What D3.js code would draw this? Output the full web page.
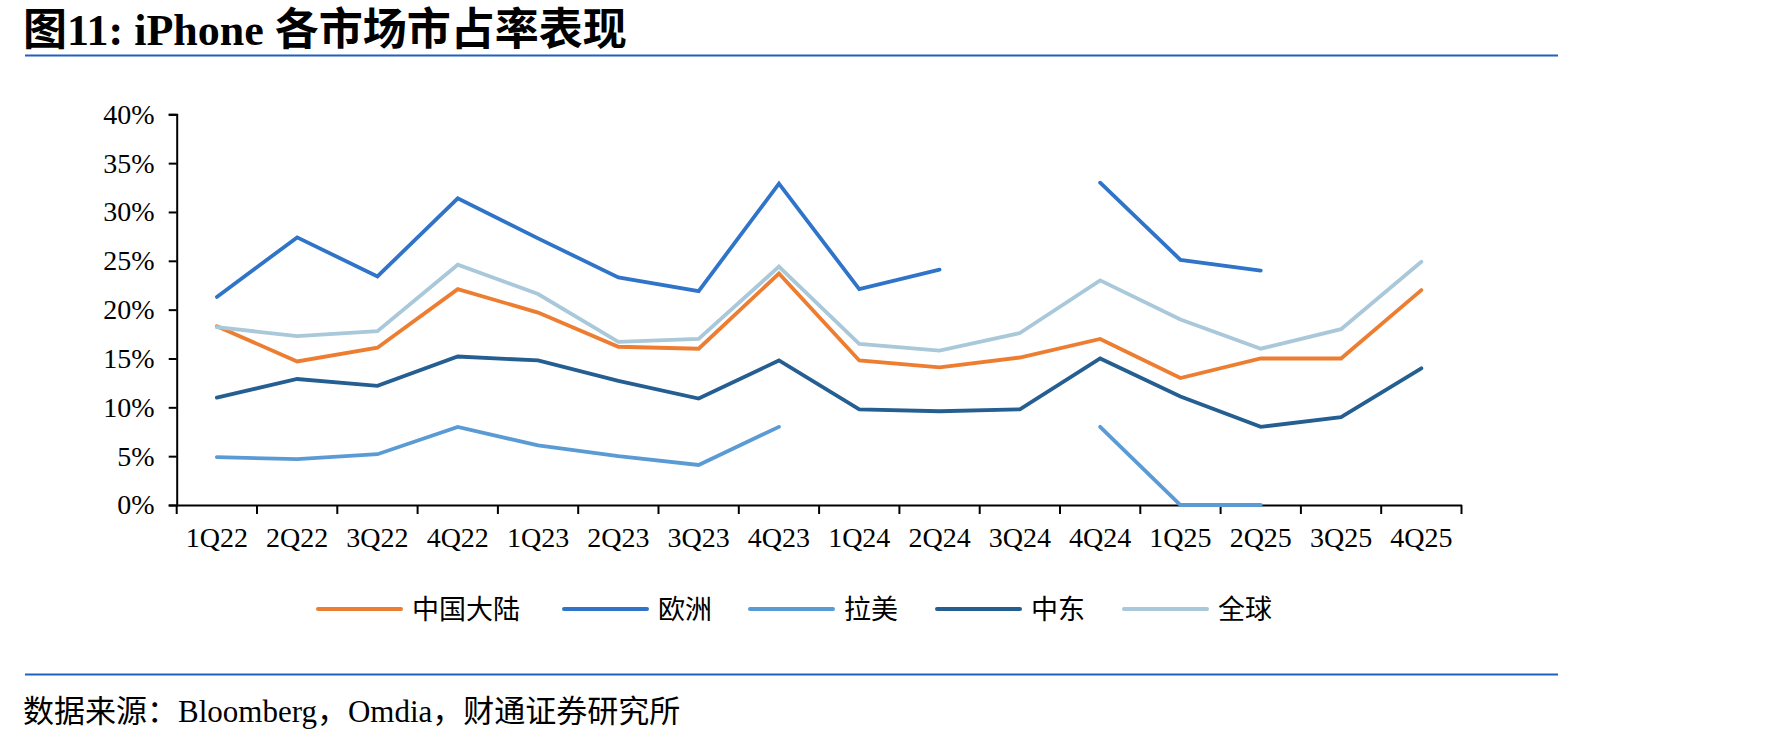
<!DOCTYPE html>
<html><head><meta charset="utf-8">
<script src="https://cdn.jsdelivr.net/npm/d3@7/dist/d3.min.js"></script>
<style>
body{margin:0;background:#fff;}
svg{display:block;}
</style></head>
<body>
<svg id="chart" width="1770" height="742"></svg>
<script>
const categories = ["1Q22","2Q22","3Q22","4Q22","1Q23","2Q23","3Q23","4Q23","1Q24","2Q24","3Q24","4Q24","1Q25","2Q25","3Q25","4Q25"];
const seriesNames = ["中国大陆","欧洲","拉美","中东","全球"];
const china   = [18.3,14.7,16.1,22.1,19.7,16.2,16.0,23.7,14.8,14.1,15.1,17.0,13.0,15.0,15.0,22.0];
const europe  = [21.3,27.4,23.4,31.4,27.3,23.3,21.9,32.9,22.1,24.1,null,33.0,25.1,24.0,null,null];
const latam   = [4.9,4.7,5.2,8.0,6.1,5.0,4.1,8.0,null,null,null,8.0,0,0,null,null];
const mideast = [11.0,12.9,12.2,15.2,14.8,12.7,10.9,14.8,9.8,9.6,9.8,15.0,11.1,8.0,9.0,14.0];
const global  = [18.2,17.3,17.8,24.6,21.6,16.7,17.0,24.4,16.5,15.8,17.6,23.0,19.0,16.0,18.0,24.9];
const yTicks = [0,5,10,15,20,25,30,35,40];
const colors = ["#ED7D31","#2F74C8","#5B9BD5","#255E91","#A9C8D9"];
const title = "图11: iPhone 各市场市占率表现";
const source = "数据来源：Bloomberg，Omdia，财通证券研究所";

const svg = d3.select("#chart");
const FONT = "'Liberation Serif','Noto Sans CJK SC',serif";

// title
svg.append("text").attr("x",23).attr("y",45)
  .attr("font-family",FONT).attr("font-weight","bold").attr("font-size",44)
  .attr("fill","#000").text(title);
svg.append("line").attr("x1",25).attr("x2",1558).attr("y1",55.5).attr("y2",55.5)
  .attr("stroke","#2060BE").attr("stroke-width",2);
svg.append("line").attr("x1",25).attr("x2",1558).attr("y1",674.5).attr("y2",674.5)
  .attr("stroke","#2060BE").attr("stroke-width",2);
svg.append("text").attr("x",23).attr("y",722)
  .attr("font-family",FONT).attr("font-size",31).attr("fill","#000").text(source);

const x = d3.scaleBand().domain(categories).range([176.7,1461.5]).padding(0);
const y = d3.scaleLinear().domain([0,40]).range([505,114.3]);

// y axis
const yAxis = d3.axisLeft(y).tickValues(yTicks).tickSize(8).tickPadding(14)
  .tickFormat(d => d + "%");
const gy = svg.append("g").attr("transform","translate(176.7,0)").call(yAxis);
gy.select(".domain").attr("stroke","#000").attr("stroke-width",2);
gy.selectAll(".tick line").attr("stroke","#000").attr("stroke-width",2);
gy.selectAll("text").attr("font-family",FONT).attr("font-size",28).attr("fill","#000");

// x axis: labels centered, ticks at band boundaries
const xAxis = d3.axisBottom(x).tickSize(0).tickPadding(22);
const gx = svg.append("g").attr("transform","translate(0,505)").call(xAxis);
gx.select(".domain").attr("stroke","#000").attr("stroke-width",2);
gx.selectAll("text").attr("font-family",FONT).attr("font-size",28).attr("fill","#000");
const bounds = categories.map(c => x(c)).concat([x.range()[1]]);
svg.append("g").selectAll("line").data(bounds).join("line")
  .attr("x1",d=>d).attr("x2",d=>d).attr("y1",505).attr("y2",514)
  .attr("stroke","#000").attr("stroke-width",2);

// lines
const allSeries = [china, europe, latam, mideast, global];
const drawOrder = [3,2,0,4,1];
const line = d3.line()
  .defined(d => d.v !== null)
  .x(d => x(d.c) + x.bandwidth()/2)
  .y(d => y(d.v));
drawOrder.forEach(i => {
  const data = categories.map((c,j) => ({c, v: allSeries[i][j]}));
  svg.append("path").datum(data).attr("d",line)
    .attr("fill","none").attr("stroke",colors[i]).attr("stroke-width",3.8)
    .attr("stroke-linejoin","miter").attr("stroke-linecap","round");
});

// legend
const legX = [318,564,750,937,1124];
const lg = svg.append("g");
seriesNames.forEach((n,i) => {
  lg.append("line").attr("x1",legX[i]).attr("x2",legX[i]+83).attr("y1",609).attr("y2",609)
    .attr("stroke",colors[i]).attr("stroke-width",4).attr("stroke-linecap","round");
  lg.append("text").attr("x",legX[i]+94).attr("y",619)
    .attr("font-family",FONT).attr("font-size",27).attr("fill","#000").text(n);
});
</script>
</body></html>
